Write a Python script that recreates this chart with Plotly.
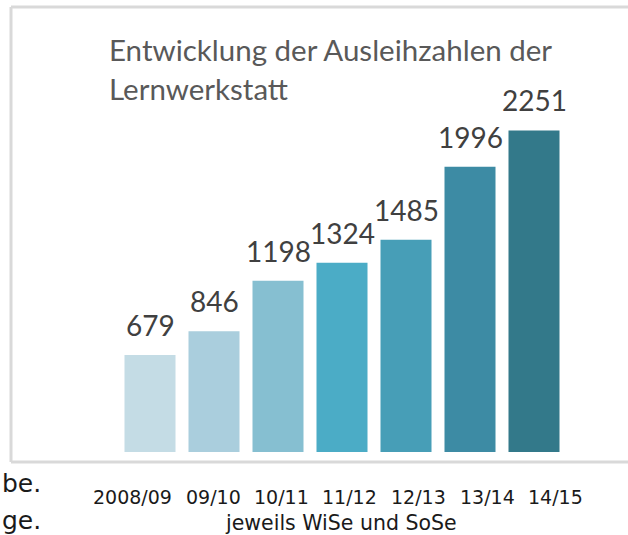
import plotly.graph_objects as go

categories = ["2008/09", "09/10", "10/11", "11/12", "12/13", "13/14", "14/15"]
values = [679, 846, 1198, 1324, 1485, 1996, 2251]
tick_labels = ["2008/09", "09/10", "10/11", "11/12", "12/13", "13/14", "14/15"]
bar_colors = ["#C4DCE5", "#AACEDD", "#86BFD1", "#4BACC6", "#479EB7", "#3D8BA4", "#33798A"]
title_lines = ["Entwicklung der Ausleihzahlen der", "Lernwerkstatt"]
axis_title = "jeweils WiSe und SoSe"
side_fragments = ["be.", "ge."]

W, H = 628, 535
ML, MR, MT, MB = 118, 62, 80, 83
PW = W - ML - MR
PH = H - MT - MB


def px(x):
    return (x - ML) / PW


def py(y):
    return (H - MB - y) / PH


fig = go.Figure()
fig.add_trace(go.Bar(
    x=categories, y=values, marker=dict(color=bar_colors, line=dict(width=0)),
    hoverinfo="x+y", showlegend=False,
))

ann = []
for c, v in zip(categories, values):
    ann.append(dict(x=c, y=v, xref="x", yref="y", text=str(v), showarrow=False,
                    yanchor="bottom", xanchor="center", yshift=11,
                    font=dict(family="Lato", size=28, color="#404040")))

ann.append(dict(x=px(107), y=py(49), xref="paper", yref="paper", text=title_lines[0],
                showarrow=False, xanchor="left", yanchor="middle",
                font=dict(family="Lato", size=29.5, color="#595959")))
ann.append(dict(x=px(107), y=py(88), xref="paper", yref="paper", text=title_lines[1],
                showarrow=False, xanchor="left", yanchor="middle",
                font=dict(family="Lato", size=29.5, color="#595959")))

label_centers = [132, 213, 281, 349, 418, 487, 555]
for t, cx in zip(tick_labels, label_centers):
    ann.append(dict(x=px(cx), y=py(497), xref="paper", yref="paper", text=t,
                    showarrow=False, xanchor="center", yanchor="middle",
                    font=dict(family="DejaVu Sans", size=19, color="#1a1a1a")))

ann.append(dict(x=px(341), y=py(523), xref="paper", yref="paper", text=axis_title,
                showarrow=False, xanchor="center", yanchor="middle",
                font=dict(family="DejaVu Sans", size=20.5, color="#1a1a1a")))

for t, cy in zip(side_fragments, [483, 520]):
    ann.append(dict(x=px(0), y=py(cy), xref="paper", yref="paper", text=t,
                    showarrow=False, xanchor="left", yanchor="middle",
                    font=dict(family="DejaVu Sans", size=25, color="#1a1a1a")))

frame_line = dict(color="#d9d9d9", width=3)
shapes = [
    dict(type="line", xref="paper", yref="paper", x0=px(11), x1=px(11), y0=py(462), y1=py(7), line=frame_line, layer="below"),
    dict(type="line", xref="paper", yref="paper", x0=px(11), x1=px(628), y0=py(7), y1=py(7), line=frame_line, layer="below"),
    dict(type="line", xref="paper", yref="paper", x0=px(11), x1=px(628), y0=py(462), y1=py(462), line=frame_line, layer="below"),
]

fig.update_layout(
    width=W, height=H,
    margin=dict(l=ML, r=MR, t=MT, b=MB, pad=0),
    paper_bgcolor="white", plot_bgcolor="white",
    bargap=1 - 51 / 64,
    xaxis=dict(showticklabels=False, showgrid=False, zeroline=False, showline=False,
               ticks="", range=[-0.5, 6.5]),
    yaxis=dict(visible=False, range=[0, PH / (97 / 679)], showgrid=False, zeroline=False),
    annotations=ann,
    shapes=shapes,
    showlegend=False,
)

fig.write_html("out.html", config={"displayModeBar": False},
               post_script="document.body.style.margin='0';document.body.style.overflow='hidden';")
